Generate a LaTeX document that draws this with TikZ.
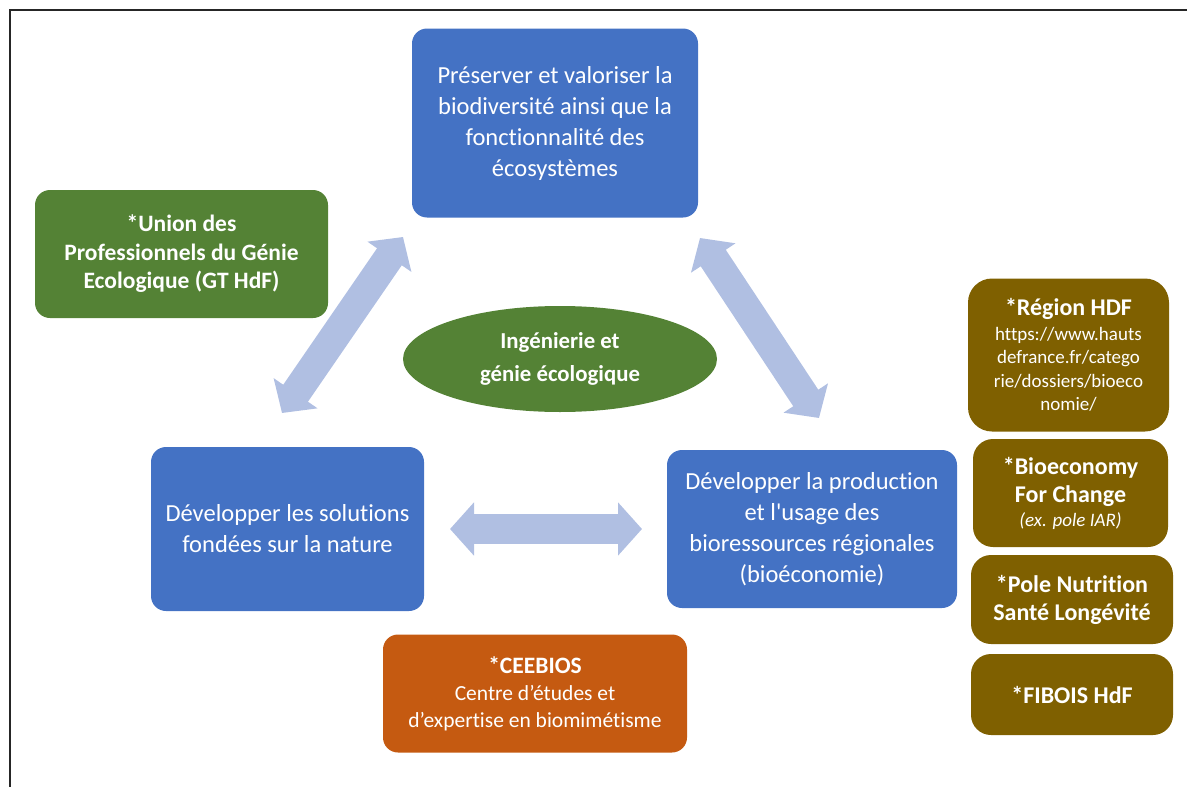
\documentclass[tikz,border=0pt]{standalone}
\usepackage{fontspec}
\setmainfont{Carlito}[Ligatures={NoCommon}]
\usetikzlibrary{arrows.meta,shapes.geometric}
\definecolor{boxblue}{HTML}{4472C4}
\definecolor{boxgreen}{HTML}{548235}
\definecolor{boxorange}{HTML}{C55A11}
\definecolor{boxbrown}{HTML}{7F6000}
\definecolor{arrowblue}{HTML}{B0BFE2}
\tikzset{
  box/.style={rectangle, rounded corners=15pt, draw=none, text=white, align=center, inner sep=0pt},
  bluebox/.style={box, fill=boxblue, font=\fontsize{24.5}{31}\selectfont},
  greenbox/.style={box, fill=boxgreen, font=\bfseries\fontsize{23.5}{28.5}\selectfont},
  orangebox/.style={box, fill=boxorange, font=\fontsize{21.5}{27}\selectfont},
  brownbox/.style={box, fill=boxbrown, rounded corners=20pt, font=\bfseries\fontsize{24}{28}\selectfont},
  dblarrow/.style={draw=arrowblue, line width=30pt,
    {Triangle[length=24pt,width=52pt]}-{Triangle[length=24pt,width=52pt]}},
  frameline/.style={draw=black!85, line width=1.6pt}
}
\begin{document}
\begin{tikzpicture}[x=1pt,y=-1pt]
\useasboundingbox (0,0) rectangle (1187,787);
% frame
\coordinate (fbl) at (10,787);
\coordinate (ftl) at (10,10);
\coordinate (ftr) at (1187,10);
\draw[frameline] (fbl) -- (ftl) -- (ftr);

% main boxes
\node[bluebox, minimum width=286pt, minimum height=189pt] (top) at (555,123)
  {Préserver et valoriser la\\biodiversité ainsi que la\\fonctionnalité des\\écosystèmes};
\node[bluebox, minimum width=273pt, minimum height=164pt] (left) at (287.5,529)
  {Développer les solutions\\fondées sur la nature};
\node[bluebox, minimum width=290pt, minimum height=158pt] (right) at (812,529)
  {Développer la production\\et l\textquotesingle usage des\\bioressources régionales\\(bioéconomie)};

\node[greenbox, minimum width=293pt, minimum height=128pt] (union) at (181.5,254)
  {*Union des\\Professionnels du Génie\\Ecologique (GT HdF)};

\node[ellipse, fill=boxgreen, text=white, align=center, inner sep=0pt,
  minimum width=314pt, minimum height=106pt,
  font=\bfseries\fontsize{22.8}{33}\selectfont] (center) at (560,359)
  {Ingénierie et\\génie écologique};

\node[orangebox, minimum width=304pt, minimum height=118pt] (ceebios) at (535,693.5)
  {{\bfseries\fontsize{23.5}{27}\selectfont *CEEBIOS}\\Centre d’études et\\d’expertise en biomimétisme};

% brown boxes
\node[brownbox, minimum width=201pt, minimum height=153pt, rounded corners=24pt,
  font=\fontsize{19}{23.5}\selectfont] (region) at (1068.5,355)
  {{\bfseries\fontsize{24}{26}\selectfont *Région HDF}\\[1pt]
   https://www.hauts\\defrance.fr/catego\\rie/dossiers/bioeco\\nomie/};
\node[brownbox, minimum width=195pt, minimum height=108pt] (bioeco) at (1070.5,493)
  {*Bioeconomy\\For Change\\[-4pt]{\mdseries\itshape\fontsize{19}{22}\selectfont (ex. pole IAR)}};
\node[brownbox, minimum width=202pt, minimum height=89pt] (pole) at (1072,599.5)
  {*Pole Nutrition\\Santé Longévité};
\node[brownbox, minimum width=202pt, minimum height=81pt] (fibois) at (1072,694.5)
  {*FIBOIS HdF};

% arrows
\coordinate (la) at (282,413);
\coordinate (lb) at (403,237);
\coordinate (ra) at (700,238);
\coordinate (rb) at (819,418);
\coordinate (ha) at (450,529);
\coordinate (hb) at (642,529);
\draw[dblarrow] (la) -- (lb);
\draw[dblarrow] (ra) -- (rb);
\draw[dblarrow] (ha) -- (hb);
\end{tikzpicture}
\end{document}
